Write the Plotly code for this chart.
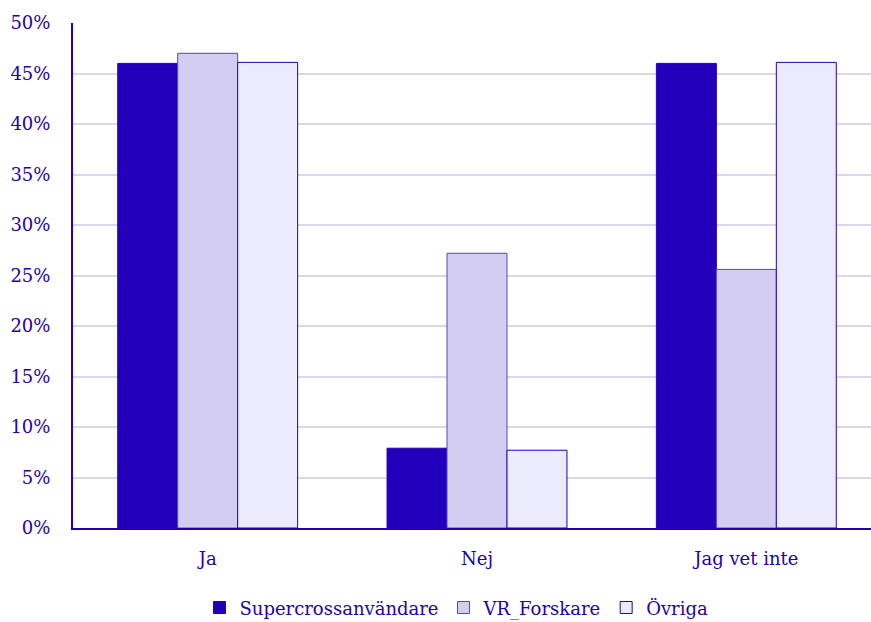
import plotly.graph_objects as go

categories = ["Ja", "Nej", "Jag vet inte"]
series_names = ["Supercrossanvändare", "VR_Forskare", "Övriga"]
supercross = [0.460, 0.079, 0.460]
vr_forskare = [0.470, 0.272, 0.256]
ovriga = [0.461, 0.077, 0.461]
y_ticks = [0, 0.05, 0.10, 0.15, 0.20, 0.25, 0.30, 0.35, 0.40, 0.45, 0.50]

fills = ["#2200bb", "#d3cdf1", "#ecebfd"]
edges = ["#2200bb", "#5544cc", "#2200bb"]
text_color = "#2200bb"
font_family = "DejaVu Serif, Liberation Serif, serif"

fig = go.Figure()
for name, vals, fc, ec in zip(series_names, [supercross, vr_forskare, ovriga], fills, edges):
    fig.add_trace(go.Bar(
        x=categories, y=vals, name=name,
        marker=dict(color=fc, line=dict(color=ec, width=1)),
    ))

fig.update_layout(
    width=882, height=622,
    margin=dict(l=73, r=1, t=23, b=94, autoexpand=False),
    barmode="group", bargap=0.332, bargroupgap=0,
    plot_bgcolor="white", paper_bgcolor="white",
    font=dict(family=font_family, size=18, color=text_color),
    legend=dict(orientation="h", x=0.4746, xanchor="center", y=-0.158, yanchor="middle",
                font=dict(size=18, color=text_color), itemwidth=30, tracegroupgap=0),
    showlegend=True,
)
fig.update_yaxes(
    range=[0, 0.5], tickvals=y_ticks, tickformat=".0%",
    showgrid=True, gridcolor="#d9d6f2", gridwidth=2,
    showline=True, linecolor=text_color, linewidth=2,
    ticks="", ticklen=0, zeroline=False, automargin=False,
    ticklabelstandoff=17,
)
fig.update_xaxes(
    showline=True, linecolor=text_color, linewidth=2,
    ticks="", showgrid=False, automargin=False,
    ticklabelstandoff=13,
)
fig.write_html(
    "out.html",
    config={"displayModeBar": False},
    post_script="document.body.style.margin='0';document.body.style.overflow='hidden';",
)
